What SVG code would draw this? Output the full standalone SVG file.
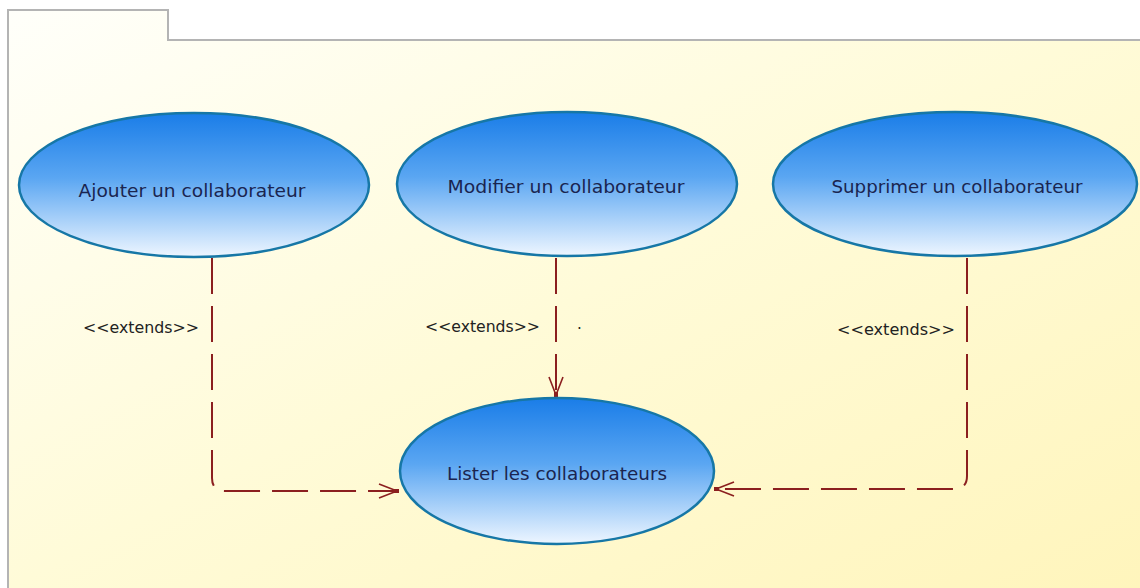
<svg xmlns="http://www.w3.org/2000/svg" width="1140" height="588" viewBox="0 0 1140 588">
<defs>
<linearGradient id="bg" x1="0" y1="0" x2="1" y2="1">
<stop offset="0" stop-color="#fffffa"/>
<stop offset="0.5" stop-color="#fffbd8"/>
<stop offset="1" stop-color="#fff5bc"/>
</linearGradient>
<linearGradient id="uc" x1="0" y1="0" x2="0" y2="1">
<stop offset="0" stop-color="#1a7de8"/>
<stop offset="0.45" stop-color="#5aa6f2"/>
<stop offset="1" stop-color="#eef6ff"/>
</linearGradient>
<marker id="ext" markerUnits="userSpaceOnUse" markerWidth="30" markerHeight="20" viewBox="-22 -10 26 20" refX="0" refY="0" orient="auto">
<path d="M-20,-7 L-2,0 L-20,7" fill="none" stroke="#8b1f1f" stroke-width="1.6"/>
<rect x="-5" y="-2" width="5" height="4" fill="#8b1f1f"/>
</marker>
</defs>
<style>
.uc ellipse{fill:url(#uc);stroke:#1677a6;stroke-width:2.5}
.uc text{font-family:"DejaVu Sans","Liberation Sans",sans-serif;font-size:17px;fill:#1a2550;text-anchor:middle}
.lbl{font-family:"DejaVu Sans","Liberation Sans",sans-serif;font-size:15px;fill:#222}
.con path{fill:none;stroke:#8b1f1f;stroke-width:2;stroke-dasharray:36 12;marker-end:url(#ext)}
</style>
<rect width="1140" height="588" fill="#ffffff"/>
<g id="package">
<path d="M8,588 V10 H168 V40 H1140 V588 Z" fill="url(#bg)"/>
<path d="M8,588 V10 H168 V40 H1140" fill="none" stroke="#b4b4b4" stroke-width="2"/>
</g>
<g id="connectors" class="con">
<path d="M212,258 V478 Q212,491 225,491 H399"/>
<path d="M556,258 V397"/>
<path d="M967,258 V476 Q967,489 954,489 H714"/>
<text class="lbl" x="83" y="333" textLength="116" lengthAdjust="spacingAndGlyphs">&lt;&lt;extends&gt;&gt;</text>
<text class="lbl" x="425" y="332" textLength="115" lengthAdjust="spacingAndGlyphs">&lt;&lt;extends&gt;&gt;</text>
<text class="lbl" x="577" y="329" font-size="12">.</text>
<text class="lbl" x="837" y="335" textLength="118" lengthAdjust="spacingAndGlyphs">&lt;&lt;extends&gt;&gt;</text>
</g>
<g id="uc-ajouter" class="uc">
<ellipse cx="194" cy="185" rx="175" ry="72"/>
<text x="192" y="197" textLength="227" lengthAdjust="spacingAndGlyphs">Ajouter un collaborateur</text>
</g>
<g id="uc-modifier" class="uc">
<ellipse cx="567" cy="184" rx="170" ry="72"/>
<text x="566" y="193" textLength="237" lengthAdjust="spacingAndGlyphs">Modifier un collaborateur</text>
</g>
<g id="uc-supprimer" class="uc">
<ellipse cx="955" cy="184" rx="182" ry="72"/>
<text x="957" y="193" textLength="251" lengthAdjust="spacingAndGlyphs">Supprimer un collaborateur</text>
</g>
<g id="uc-lister" class="uc">
<ellipse cx="557" cy="471" rx="157" ry="73"/>
<text x="557" y="480" textLength="220" lengthAdjust="spacingAndGlyphs">Lister les collaborateurs</text>
</g>
</svg>
